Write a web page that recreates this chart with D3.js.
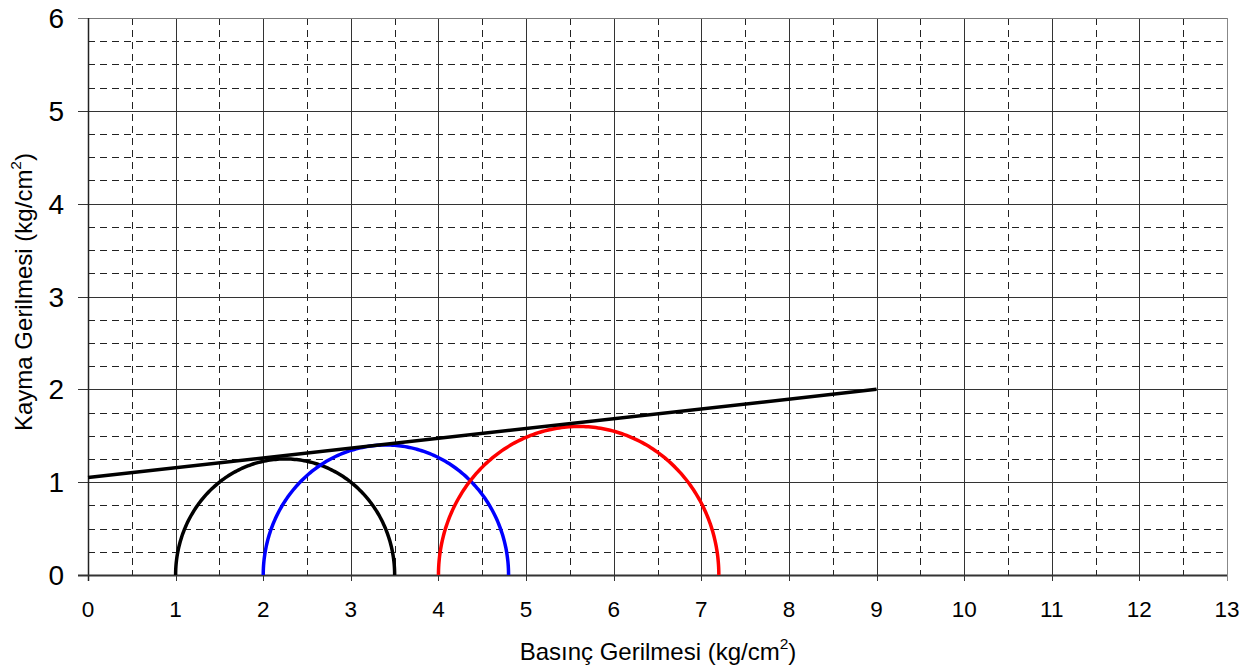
<!DOCTYPE html>
<html>
<head>
<meta charset="utf-8">
<script src="https://cdn.jsdelivr.net/npm/d3@7"></script>
<style>
  html, body { margin: 0; padding: 0; background: #fff; }
  svg { display: block; font-family: Arial, "Liberation Sans", sans-serif; }
</style>
</head>
<body>
<svg id="chart" width="1257" height="671"></svg>
<script>
// Mohr circles: minor and major principal stresses (kg/cm²)
const sigma3 = [1.0, 2.0, 4.0];
const sigma1 = [3.5, 4.8, 7.2];
const circleColors = ["#000000", "#0000ff", "#ff0000"];

// Failure envelope end points
const envelopeX = [0, 9];
const envelopeY = [1.05, 2.0];

// Axis ticks
const xTicks = d3.range(0, 14, 1);
const yTicks = d3.range(0, 7, 1);
const xMinorTicks = d3.range(0.5, 13, 1);
const yMinorTicks = d3.range(0, 6, 0.25).filter(v => v % 1 !== 0);

const xLabel = "Basınç Gerilmesi (kg/cm";
const yLabel = "Kayma Gerilmesi (kg/cm";

const svg = d3.select("#chart");
const mLeft = 88, mRight = 1227, mTop = 18, mBottom = 575;

const x = d3.scaleLinear().domain([0, 13]).range([mLeft, mRight]);
const y = d3.scaleLinear().domain([0, 6]).range([mBottom, mTop]);

const grid = svg.append("g");

// dashed minor grid
grid.selectAll(".hminor").data(yMinorTicks).join("line")
  .attr("x1", mLeft).attr("x2", mRight)
  .attr("y1", d => Math.round(y(d)) + 0.5).attr("y2", d => Math.round(y(d)) + 0.5)
  .attr("stroke", "#222").attr("stroke-width", 1).attr("stroke-dasharray", "7,5");
grid.selectAll(".vminor").data(xMinorTicks).join("line")
  .attr("y1", mTop).attr("y2", mBottom)
  .attr("x1", d => Math.round(x(d)) + 0.5).attr("x2", d => Math.round(x(d)) + 0.5)
  .attr("stroke", "#222").attr("stroke-width", 1).attr("stroke-dasharray", "7,5");

// solid major grid
grid.selectAll(".hmajor").data(yTicks.filter(d => d > 0 && d < 6)).join("line")
  .attr("x1", mLeft - 10).attr("x2", mRight)
  .attr("y1", d => Math.round(y(d)) + 0.5).attr("y2", d => Math.round(y(d)) + 0.5)
  .attr("stroke", "#333").attr("stroke-width", 1);
grid.selectAll(".vmajor").data(xTicks.filter(d => d > 0 && d < 13)).join("line")
  .attr("y1", mTop).attr("y2", mBottom + 6)
  .attr("x1", d => Math.round(x(d)) + 0.5).attr("x2", d => Math.round(x(d)) + 0.5)
  .attr("stroke", "#333").attr("stroke-width", 1);

// frame
svg.append("line").attr("x1", mLeft - 10).attr("x2", mRight)
  .attr("y1", mTop + 0.5).attr("y2", mTop + 0.5).attr("stroke", "#777").attr("stroke-width", 1);
svg.append("line").attr("x1", mRight + 0.5).attr("x2", mRight + 0.5)
  .attr("y1", mTop).attr("y2", mBottom + 6).attr("stroke", "#888").attr("stroke-width", 1);
svg.append("line").attr("x1", mLeft + 0.5).attr("x2", mLeft + 0.5)
  .attr("y1", mTop).attr("y2", mBottom + 6).attr("stroke", "#222").attr("stroke-width", 1.5);
svg.append("line").attr("x1", mLeft - 10).attr("x2", mRight)
  .attr("y1", mBottom + 0.5).attr("y2", mBottom + 0.5).attr("stroke", "#333").attr("stroke-width", 2);

// tick labels
svg.append("g").selectAll("text").data(xTicks).join("text")
  .attr("x", d => x(d)).attr("y", 617)
  .attr("text-anchor", "middle").attr("font-size", 22.5).attr("fill", "#000")
  .text(d => d);
svg.append("g").selectAll("text").data(yTicks).join("text")
  .attr("x", 64).attr("y", d => y(d) + 10)
  .attr("text-anchor", "end").attr("font-size", 28).attr("fill", "#000")
  .text(d => d);

// axis titles
const xt = svg.append("text").attr("x", 658).attr("y", 660)
  .attr("text-anchor", "middle").attr("font-size", 24).attr("fill", "#000");
xt.append("tspan").text(xLabel);
xt.append("tspan").attr("dy", -11).attr("font-size", 15.5).text("2");
xt.append("tspan").attr("dy", 11).text(")");

const yt = svg.append("text").attr("transform", "translate(32,292) rotate(-90)")
  .attr("text-anchor", "middle").attr("font-size", 24).attr("fill", "#000");
yt.append("tspan").text(yLabel);
yt.append("tspan").attr("dy", -11).attr("font-size", 15.5).text("2");
yt.append("tspan").attr("dy", 11).text(")");

// Mohr circles (upper halves)
const line = d3.line().x(d => x(d[0])).y(d => y(d[1]));
const circles = sigma3.map((s3, i) => {
  const c = (s3 + sigma1[i]) / 2, r = (sigma1[i] - s3) / 2;
  return d3.range(0, 181, 1).map(a => {
    const t = Math.PI - a * Math.PI / 180;
    return [c + r * Math.cos(t), r * Math.sin(t)];
  });
});
svg.append("g").selectAll("path").data(circles).join("path")
  .attr("d", line).attr("fill", "none")
  .attr("stroke", (d, i) => circleColors[i]).attr("stroke-width", 3.5);

// failure envelope
svg.append("path").datum(envelopeX.map((v, i) => [v, envelopeY[i]]))
  .attr("d", line).attr("fill", "none").attr("stroke", "#000").attr("stroke-width", 3.5);
</script>
</body>
</html>
